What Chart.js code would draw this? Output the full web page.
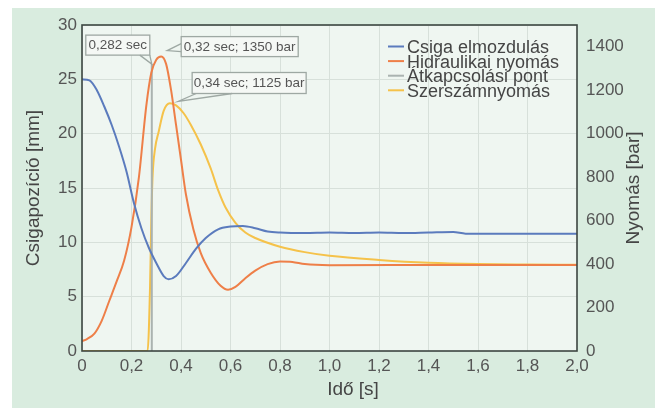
<!DOCTYPE html>
<html>
<head>
<meta charset="utf-8">
<script src="https://cdn.jsdelivr.net/npm/chart.js@4"></script>
<style>
  html, body { margin: 0; padding: 0; background: #fff; }
  #wrap { width: 658px; height: 408px; }
</style>
</head>
<body>
<div id="wrap"><canvas id="chart" width="658" height="408"></canvas></div>
<script>
// --- Data ---
const seriesLabels = ['Csiga elmozdulás', 'Hidraulikai nyomás', 'Átkapcsolási pont', 'Szerszámnyomás'];
const seriesColors = ['#5b7bbd', '#ee7f48', '#aab3b0', '#f5c24a'];

// Csiga elmozdulás [mm] (left axis)
const csigaT  = [0, 0.03, 0.06, 0.09, 0.12, 0.15, 0.18, 0.21, 0.24, 0.27, 0.30, 0.33, 0.35, 0.38, 0.42, 0.46, 0.50, 0.55, 0.60, 0.65, 0.70, 0.75, 0.80, 0.90, 1.0, 1.1, 1.2, 1.3, 1.4, 1.5, 1.55, 1.7, 2.0];
const csigaMm = [25.0, 24.9, 24.0, 22.5, 20.8, 18.8, 16.5, 13.6, 11.3, 9.5, 8.1, 6.9, 6.6, 6.9, 8.1, 9.4, 10.4, 11.2, 11.45, 11.5, 11.3, 11.0, 10.9, 10.85, 10.9, 10.85, 10.9, 10.85, 10.9, 10.95, 10.8, 10.8, 10.8];

// Hidraulikai nyomás [bar] (right axis)
const hidrT   = [0, 0.02, 0.05, 0.08, 0.11, 0.14, 0.17, 0.20, 0.23, 0.26, 0.28, 0.30, 0.32, 0.34, 0.36, 0.38, 0.40, 0.42, 0.45, 0.48, 0.52, 0.56, 0.59, 0.62, 0.66, 0.70, 0.75, 0.80, 0.85, 0.90, 1.0, 1.5, 2.0];
const hidrBar = [45, 55, 80, 140, 230, 320, 415, 570, 800, 1130, 1280, 1340, 1355, 1320, 1200, 1040, 880, 720, 560, 450, 360, 300, 282, 295, 335, 370, 400, 412, 410, 400, 395, 396, 396];

// Átkapcsolási pont (vertical marker)
const atkT   = [0.282, 0.282];
const atkBar = [0, 1320];

// Szerszámnyomás [bar] (right axis)
const szerszT   = [0, 0.265, 0.275, 0.28, 0.285, 0.295, 0.31, 0.33, 0.355, 0.38, 0.41, 0.44, 0.48, 0.52, 0.55, 0.58, 0.62, 0.66, 0.70, 0.80, 0.90, 1.0, 1.2, 1.4, 1.6, 1.8, 2.0];
const szerszBar = [0, 0, 300, 600, 800, 930, 1010, 1105, 1140, 1130, 1095, 1040, 950, 840, 740, 660, 590, 545, 520, 480, 455, 438, 419, 406, 400, 398, 397];

// Callouts: text and the data point they point at
const calloutTexts = ['0,282 sec', '0,32 sec; 1350 bar', '0,34 sec; 1125 bar'];
const calloutX = [0.282, 0.32, 0.34];
const calloutY = [1320, 1350, 1125];

const zip = (xs, ys) => xs.map((x, i) => ({x: x, y: ys[i]}));
const fmtDec = v => (Math.abs(v) < 1e-9 ? '0' : (Math.round(v * 10) / 10).toFixed(1).replace('.', ','));
const FONT = "'Liberation Sans', Arial, sans-serif";

// layout of the callout boxes, relative to their tips
const calloutLayout = [
  {tip: [0, 0],  box: [-66, -29, 64, 20], base: [[-12, -9], [-2, -9]]},
  {tip: [6, -7], box: [14, -14, 117, 20], base: [[14, -7], [14, 1]]},
  {tip: [12, -5], box: [14, -29, 114, 21], base: [[18, -8], [54, -8]]}
];

const decorPlugin = {
  id: 'decor',
  beforeDraw(chart) {
    const {ctx, chartArea: a} = chart;
    ctx.save();
    ctx.fillStyle = '#ffffff';
    ctx.fillRect(0, 0, chart.width, chart.height);
    ctx.fillStyle = '#d9ecdf';
    ctx.fillRect(12, 8, 643, 400);
    ctx.fillStyle = '#eff6f1';
    ctx.fillRect(a.left, a.top, a.right - a.left, a.bottom - a.top);
    ctx.restore();
  },
  afterDatasetsDraw(chart) {
    const {ctx, chartArea: a, scales} = chart;
    ctx.save();
    // frame
    ctx.strokeStyle = '#3c4641';
    ctx.lineWidth = 1.6;
    ctx.strokeRect(a.left, a.top, a.right - a.left, a.bottom - a.top);

    // callouts
    ctx.font = '13.5px ' + FONT;
    ctx.textAlign = 'center';
    ctx.textBaseline = 'middle';
    calloutTexts.forEach((txt, i) => {
      const L = calloutLayout[i];
      const tx = scales.x.getPixelForValue(calloutX[i]) + L.tip[0];
      const ty = scales.y1.getPixelForValue(calloutY[i]) + L.tip[1];
      const bx = tx + L.box[0], by = ty + L.box[1], bw = L.box[2], bh = L.box[3];
      ctx.fillStyle = '#f5f8f5';
      ctx.strokeStyle = '#9ea8a3';
      ctx.lineWidth = 1.3;
      ctx.fillRect(bx, by, bw, bh);
      ctx.strokeRect(bx, by, bw, bh);
      const b1 = [tx + L.base[0][0], ty + L.base[0][1]];
      const b2 = [tx + L.base[1][0], ty + L.base[1][1]];
      ctx.beginPath();
      ctx.moveTo(b1[0], b1[1]);
      ctx.lineTo(tx, ty);
      ctx.lineTo(b2[0], b2[1]);
      ctx.stroke();
      ctx.fillStyle = '#555';
      ctx.fillText(txt, bx + bw / 2, by + bh / 2 + 0.5);
    });

    // legend
    ctx.font = '18px ' + FONT;
    ctx.textAlign = 'left';
    ctx.textBaseline = 'alphabetic';
    seriesLabels.forEach((lab, i) => {
      const yb = 53 + i * 14.6;
      ctx.strokeStyle = seriesColors[i];
      ctx.lineWidth = 2;
      ctx.beginPath();
      ctx.moveTo(388, yb - 6.5);
      ctx.lineTo(404, yb - 6.5);
      ctx.stroke();
      ctx.fillStyle = '#454545';
      ctx.fillText(lab, 407, yb);
    });

    // axis titles (x, right)
    ctx.font = '19px ' + FONT;
    ctx.textAlign = 'center';
    ctx.textBaseline = 'middle';
    ctx.fillStyle = '#454545';
    ctx.fillText('Idő [s]', 353, 389.5);
    ctx.translate(634, (a.top + a.bottom) / 2);
    ctx.rotate(-Math.PI / 2);
    ctx.fillText('Nyomás [bar]', 0, 0);
    ctx.restore();
  }
};

const ds = (i, pts, axis) => ({
  label: seriesLabels[i],
  data: pts,
  yAxisID: axis,
  borderColor: seriesColors[i],
  backgroundColor: seriesColors[i],
  borderWidth: 2,
  pointRadius: 0,
  cubicInterpolationMode: 'monotone',
  fill: false
});

new Chart(document.getElementById('chart').getContext('2d'), {
  type: 'line',
  data: {
    datasets: [
      ds(0, zip(csigaT, csigaMm), 'y'),
      ds(1, zip(hidrT, hidrBar), 'y1'),
      ds(2, zip(atkT, atkBar), 'y1'),
      ds(3, zip(szerszT, szerszBar), 'y1')
    ]
  },
  options: {
    responsive: false,
    animation: false,
    layout: { padding: { top: 25, left: 0, right: 0, bottom: 0 } },
    plugins: { legend: { display: false }, tooltip: { enabled: false } },
    scales: {
      x: {
        type: 'linear', min: 0, max: 2,
        afterFit: s => { s.height = 57; },
        border: { display: false },
        grid: { color: '#d7e0da', drawTicks: false },
        ticks: { stepSize: 0.2, padding: 5, color: '#555', font: { size: 17, family: FONT }, maxRotation: 0, callback: v => fmtDec(v) }
      },
      y: {
        position: 'left', min: 0, max: 30,
        afterFit: s => { s.width = 82; },
        border: { display: false },
        grid: { color: '#d7e0da', drawTicks: false },
        ticks: { stepSize: 5, padding: 5, color: '#555', font: { size: 17, family: FONT } },
        title: { display: true, text: 'Csigapozíció [mm]', color: '#454545', font: { size: 19, family: FONT }, padding: { top: 22.6, bottom: 0 } }
      },
      y1: {
        position: 'right', min: 0, max: 1500,
        afterFit: s => { s.width = 81; },
        border: { display: false },
        grid: { display: false, drawTicks: false },
        ticks: { stepSize: 200, padding: 9, color: '#555', font: { size: 17, family: FONT }, callback: v => (v > 1400 ? '' : v) }
      }
    }
  },
  plugins: [decorPlugin]
});
</script>
</body>
</html>
